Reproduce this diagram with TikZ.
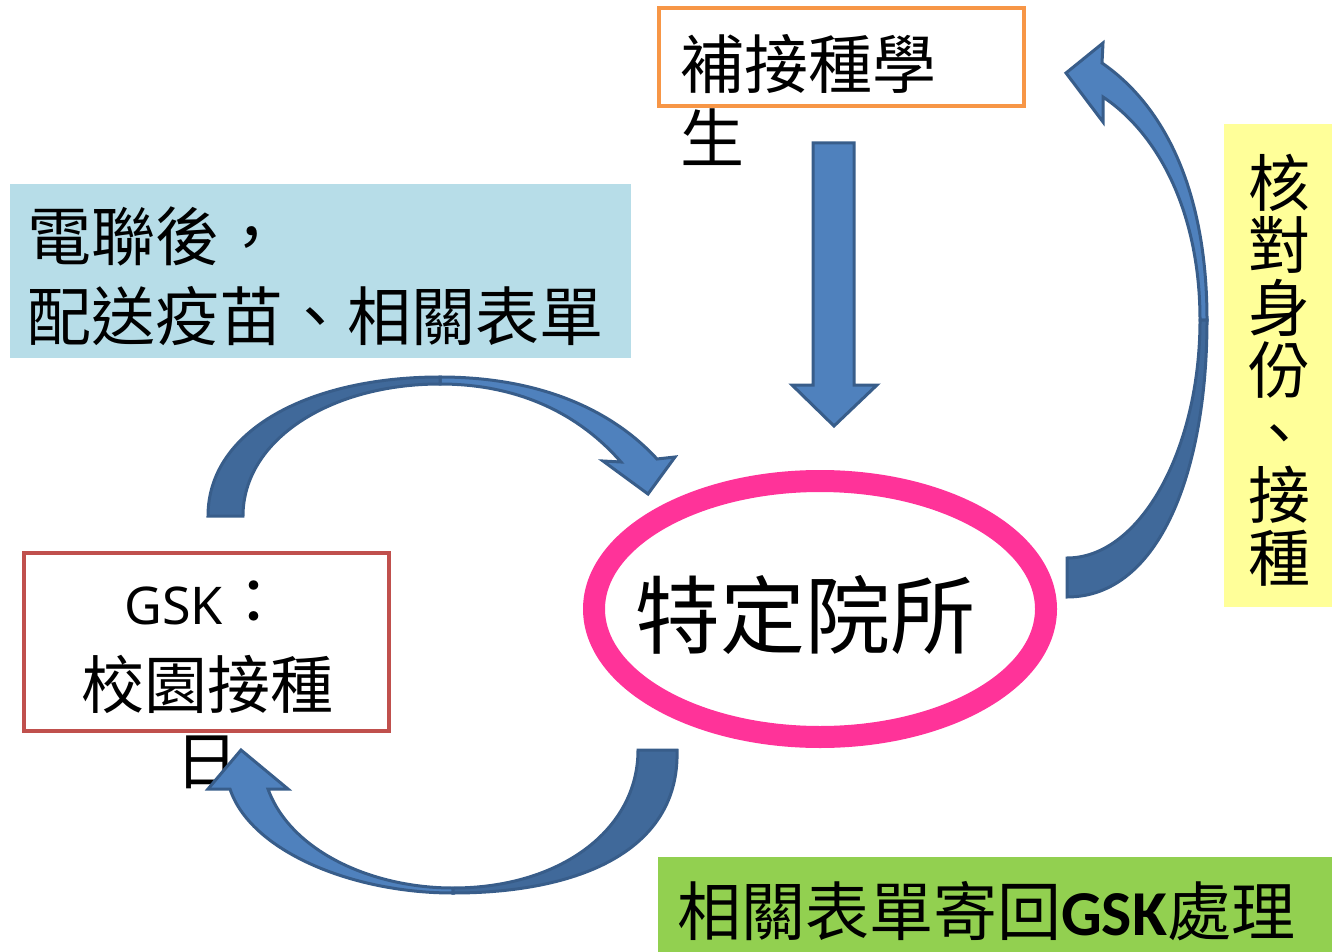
\documentclass[tikz,border=0pt]{standalone}
\usepackage{fontspec}
\usetikzlibrary{shapes.geometric}
\newfontfamily\cjk{Noto Sans CJK TC}
\newfontfamily\latinsans{Noto Sans}
\newfontfamily\gskfont{Carlito}
\definecolor{arrowfill}{HTML}{4F81BD}
\definecolor{arrowdark}{HTML}{40699A}
\definecolor{arrowline}{HTML}{385D8A}
\definecolor{orangeline}{HTML}{F79646}
\definecolor{bluebox}{HTML}{B7DDE8}
\definecolor{yellowbox}{HTML}{FFFF99}
\definecolor{greenbox}{HTML}{92D050}
\definecolor{redline}{HTML}{C0504D}
\definecolor{pinkring}{HTML}{FF3399}
\tikzset{
  lightpart/.style={fill=arrowfill, draw=arrowline, line width=3pt, line join=miter},
  darkpart/.style={fill=arrowdark, draw=arrowline, line width=3pt, line join=miter},
  txt/.style={inner sep=0pt, anchor=base west, text=black},
  ctxt/.style={inner sep=0pt, anchor=base, text=black},
  cjk64/.style={font=\cjk\fontsize{64}{76}\selectfont},
  cjk63/.style={font=\cjk\fontsize{63}{76}\selectfont},
  cjk62/.style={font=\cjk\fontsize{62}{70}\selectfont},
}
\begin{document}
\begin{tikzpicture}[x=1pt,y=-1pt]
\useasboundingbox (0,0) rectangle (1332,952);
% boxes
\node[draw=orangeline, line width=4pt, minimum width=365pt, minimum height=98pt, inner sep=0pt] (studbox) at (841.5,57) {};
\node[fill=bluebox, minimum width=621pt, minimum height=174pt, inner sep=0pt] (bluebg) at (320.5,271) {};
\node[fill=yellowbox, minimum width=108pt, minimum height=483pt, inner sep=0pt] (yellowbg) at (1278,365.5) {};
\node[fill=greenbox, minimum width=674pt, minimum height=95pt, inner sep=0pt] (greenbg) at (995,904.5) {};
\node[draw=redline, line width=4.5pt, minimum width=365pt, minimum height=178pt, inner sep=0pt] (gskbox) at (206.5,642) {};
\node[draw=pinkring, line width=22pt, ellipse, minimum width=452pt, minimum height=256pt, inner sep=0pt] (clinicring) at (820,609) {};
% texts
\node[txt, cjk64] (stud1) at (680,89) {補接種學};
\node[txt, cjk64] (stud2) at (680,163) {生};
\node[txt, cjk64] (blue1) at (27,260) {電聯後，};
\node[txt, cjk64] (blue2) at (27,340) {配送疫苗、相關表單};
\node[txt, cjk64] (green1) at (677,935) {相關表單寄回{\gskfont\bfseries GSK}處理};
\node[ctxt] (gsk1) at (205,624) {{\latinsans\fontsize{52}{56}\selectfont GSK}{\cjk\fontsize{63}{70}\selectfont ：}};
\node[ctxt, cjk63] (gsk2) at (207,708) {校園接種};
\node[ctxt, cjk63] (gsk3) at (207,784) {日};
\node[ctxt, font=\cjk\fontsize{85}{100}\selectfont] (clinic) at (805,647) {特定院所};
\foreach \c [count=\i] in {核,對,身,份,、,接,種}
  \node[ctxt, cjk62] (vert\i) at (1279,{206+62.5*(\i-1)}) {\c};
% down arrow
\draw[lightpart] (813,143) -- (854,143) -- (854,385) -- (877,385) -- (834,426) -- (792,385) -- (813,385) -- cycle;
% top curved arrow
\draw[lightpart] (440,377) .. controls (540,377) and (612,410) .. (657,459) -- (675,457) -- (648,494) -- (603,461) -- (621,462) .. controls (580,415) and (520,384) .. (440,384) -- cycle;
\draw[darkpart] (208,516) .. controls (208,430) and (310,377) .. (440,377) -- (440,384) .. controls (330,384) and (243,440) .. (243,516) -- cycle;
% bottom curved arrow
\draw[lightpart] (453,893) .. controls (350,893) and (250,850) .. (230,789) -- (208,789) -- (241,750) -- (288,789) -- (268,789) .. controls (290,850) and (370,888) .. (453,888) -- cycle;
\draw[darkpart] (677,750) .. controls (680,850) and (580,893) .. (453,893) -- (453,888) .. controls (560,888) and (638,830) .. (638,750) -- cycle;
% right curved arrow
\draw[lightpart] (1207,320) .. controls (1207,200) and (1170,110) .. (1102,63) -- (1103,43) -- (1066,73) -- (1103,122) -- (1103,97) .. controls (1160,135) and (1200,215) .. (1200,320) -- cycle;
\draw[darkpart] (1067,597) .. controls (1160,597) and (1207,470) .. (1207,320) -- (1200,320) .. controls (1200,450) and (1140,558) .. (1067,558) -- cycle;
\end{tikzpicture}
\end{document}
